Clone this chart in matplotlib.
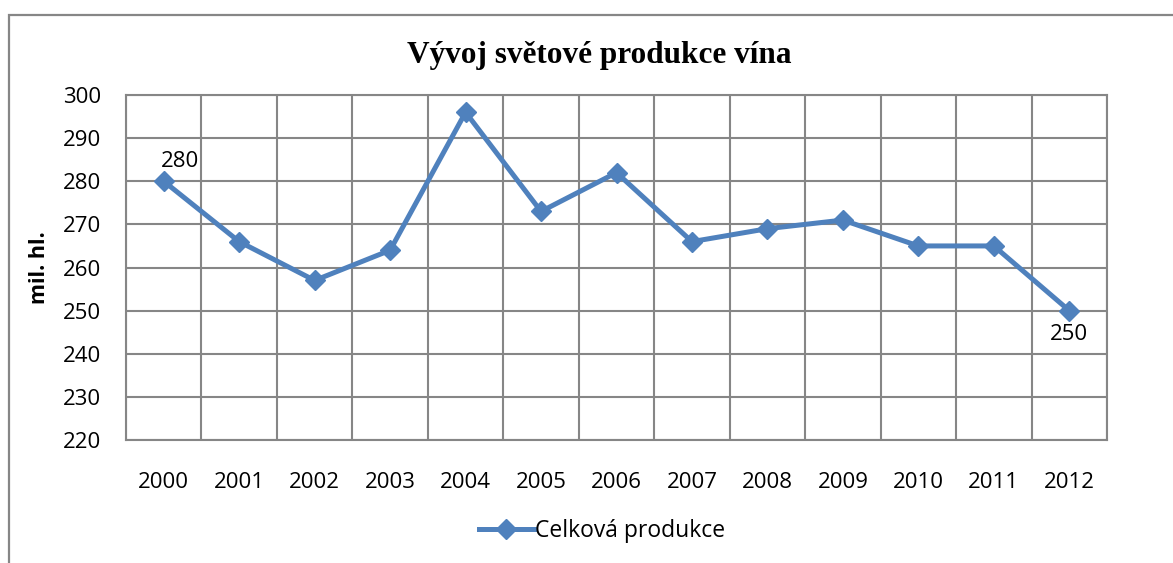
import numpy as np
import matplotlib
matplotlib.use("Agg")
from matplotlib import pyplot as plt
from matplotlib.patches import Rectangle

years = ["2000", "2001", "2002", "2003", "2004", "2005", "2006",
         "2007", "2008", "2009", "2010", "2011", "2012"]
production = [280, 266, 257, 264, 296, 273, 282, 266, 269, 271, 265, 265, 250]
y_ticks = [220, 230, 240, 250, 260, 270, 280, 290, 300]

blue = "#4F81BD"
grey = "#868686"
sans = ["Open Sans", "DejaVu Sans"]

plt.rcParams["font.family"] = sans

fig = plt.figure(figsize=(11.73, 5.63), dpi=100)
ax = fig.add_axes([126 / 1173, 1 - 440 / 563, (1107 - 126) / 1173, (440 - 95) / 563])

x = np.arange(len(years))
line, = ax.plot(x, production, color=blue, lw=3.6, marker="D", markersize=10.5,
                markeredgecolor=blue, markerfacecolor=blue, label="Celková produkce",
                zorder=3, clip_on=False)

ax.set_xlim(-0.5, len(years) - 0.5)
ax.set_ylim(y_ticks[0], y_ticks[-1])
ax.set_yticks(y_ticks)
ax.set_xticks(x)
ax.set_xticklabels(years)
ax.set_xticks(np.arange(-0.5, len(years), 1.0), minor=True)

ax.grid(True, which="major", axis="y", color=grey, lw=1.5)
ax.grid(True, which="minor", axis="x", color=grey, lw=1.5)
ax.grid(False, which="major", axis="x")
ax.tick_params(axis="both", which="both", length=0, labelsize=16)
ax.tick_params(axis="y", pad=18)
ax.tick_params(axis="x", pad=23)
for s in ax.spines.values():
    s.set_color(grey)
    s.set_linewidth(1.5)
ax.set_axisbelow(True)

ax.set_ylabel("mil. hl.", fontsize=15.5, fontweight="bold", labelpad=9)

# data labels on first and last point
ax.annotate(str(production[0]), (x[0], production[0]), xytext=(12, 14),
            textcoords="offset points", ha="center", va="center", fontsize=16)
ax.annotate(str(production[-1]), (x[-1], production[-1]), xytext=(0, -17),
            textcoords="offset points", ha="center", va="center", fontsize=16)

fig.text(0.5107, 1 - 55 / 563, "Vývoj světové produkce vína", ha="center", va="center",
         fontsize=22.5, fontweight="bold", family=["Liberation Serif", "DejaVu Serif"])

fig.legend(handles=[line], loc="center", bbox_to_anchor=(602 / 1173, 1 - 531 / 563),
           frameon=False, fontsize=16.5, handlelength=2.4, handletextpad=0.05)

fig.patches.append(Rectangle((9 / 1173, -0.05), 1.1, 1 - 15 / 563 + 0.05,
                             transform=fig.transFigure, fill=False,
                             edgecolor=grey, lw=1.6))

fig.savefig("out.png", dpi=100)
